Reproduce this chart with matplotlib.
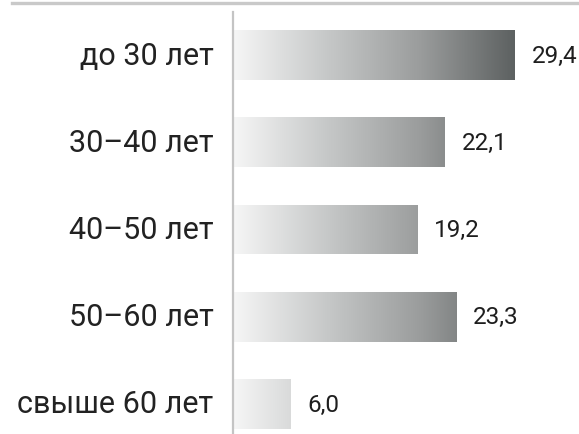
import matplotlib.pyplot as plt
import numpy as np
from matplotlib.colors import LinearSegmentedColormap
from matplotlib.lines import Line2D

categories = ['до 30 лет', '30–40 лет', '40–50 лет', '50–60 лет', 'свыше 60 лет']
values = [29.4, 22.1, 19.2, 23.3, 6.0]
value_labels = ['29,4', '22,1', '19,2', '23,3', '6,0']

W, H = 579, 435
fig = plt.figure(figsize=(W / 100, H / 100), dpi=100)
fig.patch.set_facecolor('white')

# axes: left edge at the vertical line
ax = fig.add_axes([233 / W, 0, 1 - 233 / W, 1 - 13 / H])
xmax = (W - 233) / 9.59

# gradient shared by all bars (light on the left, dark at 29.4)
cmap = LinearSegmentedColormap.from_list('g', ['#f6f6f6', '#c6c8c8', '#9a9c9c', '#5d6161'])
grad = np.linspace(0, 1, 256).reshape(1, -1)
bar_h = 0.573
for i, v in enumerate(values):
    bars = ax.barh(i, v, height=bar_h, color='none', edgecolor='none')
    im = ax.imshow(grad, cmap=cmap, aspect='auto',
                   extent=(0, max(values), i + bar_h / 2, i - bar_h / 2),
                   interpolation='bicubic', zorder=2)
    im.set_clip_path(bars[0])
    ax.text(v + 1.75, i, value_labels[i], va='center', ha='left',
            fontsize=17.5, color='#1e1e1e', family=['Roboto', 'DejaVu Sans'])
ax.set_xlim(0, xmax)
ax.set_ylim(len(values) - 1 + 0.344, -0.493)

for i, c in enumerate(categories):
    ax.text(-2.05, i, c, va='center', ha='right', fontsize=22, color='#222222',
            family=['Roboto', 'DejaVu Sans'])

for s in ['top', 'right', 'bottom']:
    ax.spines[s].set_visible(False)
ax.spines['left'].set_color('#c4c4c4')
ax.spines['left'].set_linewidth(1.6)
ax.set_xticks([])
ax.set_yticks([])
ax.patch.set_alpha(0)

# top rule
fig.add_artist(Line2D([12 / W, 1], [1 - 4 / H, 1 - 4 / H], color='#c9c9c9', lw=2.4))

fig.savefig('out.png', dpi=100, facecolor='white')
